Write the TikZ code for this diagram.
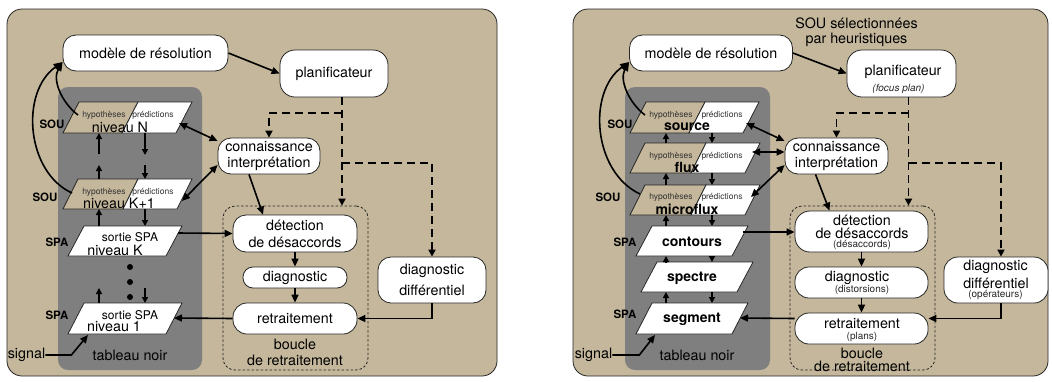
\documentclass[tikz,border=0pt]{standalone}
\usepackage{fontspec}
\setmainfont{TeX Gyre Heros}
\usetikzlibrary{arrows.meta,calc}
\definecolor{paneltan}{HTML}{C4B79B}
\definecolor{boardgray}{HTML}{7F7F7F}
\newcommand\mainf{\fontsize{14.3}{16}\selectfont}
\newcommand\hypf{\fontsize{8.5}{9}\selectfont}
\newcommand\soulf{\fontsize{11.5}{12}\selectfont\bfseries}
\newcommand\lvlf{\fontsize{14}{15}\selectfont\bfseries}
\newcommand\subf{\fontsize{10}{11}\selectfont}
\newcommand\sortf{\fontsize{12}{13}\selectfont}
\begin{document}
\begin{tikzpicture}[x=1pt,y=-1pt,
  box/.style={draw=black!85, line width=0.8pt, fill=white, rounded corners=13pt, inner sep=0pt, align=center, font=\mainf},
  lbl/.style={inner sep=0pt, font=\mainf, align=center},
  hyp/.style={inner sep=0pt, font=\hypf, text=black!80},
  soul/.style={inner sep=0pt, font=\soulf},
  lvl/.style={inner sep=0pt, font=\lvlf},
  sub/.style={inner sep=0pt, font=\subf, text=black!85},
  para/.style={draw=black!85, line width=0.8pt},
  loop/.style={draw=black!85, line width=0.8pt, dash pattern=on 2.5pt off 2pt, rounded corners=12pt, inner sep=0pt},
  arr/.style={line width=1.6pt, -{Triangle[length=8pt,width=7pt]}},
  darr/.style={line width=1.6pt, {Triangle[length=8pt,width=7pt]}-{Triangle[length=8pt,width=7pt]}},
  sarr/.style={line width=1.5pt, -{Triangle[length=6pt,width=6pt]}},
  dsh/.style={line width=1.8pt, dash pattern=on 8pt off 5pt, -{Triangle[length=7pt,width=7pt]}},
  curv/.style={line width=1.6pt, -{Triangle[length=9pt,width=7pt]}}
]
\useasboundingbox (0,0) rectangle (1052,381);

% ================= LEFT PANEL =================
\draw[fill=paneltan, draw=black!85, line width=0.8pt, rounded corners=15pt] (7,9) rectangle (497,376);
\fill[boardgray, rounded corners=10pt] (58,87) rectangle (202,370);

\node[box, minimum width=165, minimum height=36] (modL) at (145.5,53) {modèle de résolution};
\node[box, minimum width=108, minimum height=47, rounded corners=15pt] (plaL) at (334,73.5) {planificateur};
\node[box, minimum width=102, minimum height=36] (conL) at (269,156) {connaissance\\interprétation};
\node[loop, minimum width=145, minimum height=164] (bouL) at (295.5,288) {};
\node[box, minimum width=124, minimum height=37, font=\fontsize{14.3}{17}\selectfont] (detL) at (295,233.5) {détection\\de désaccords};
\node[box, minimum width=104, minimum height=21, rounded corners=10pt] (diaL) at (295,277.5) {diagnostic};
\node[box, minimum width=124, minimum height=31, rounded corners=14pt] (retL) at (295,318.5) {retraitement};
\node[box, minimum width=108, minimum height=46, font=\fontsize{14.3}{21}\selectfont] (ddL) at (432,280) {diagnostic\\différentiel};
\node[lbl] (bouLt) at (295,352) {boucle\\de retraitement};

% levels
\filldraw[para, fill=paneltan] (63,133) -- (79,102) -- (138,102) -- (122,133) -- cycle;
\filldraw[para, fill=white] (122,133) -- (138,102) -- (192,102) -- (176,133) -- cycle;
\filldraw[para, fill=paneltan] (63,209) -- (78,179) -- (138,179) -- (123,209) -- cycle;
\filldraw[para, fill=white] (123,209) -- (138,179) -- (192,179) -- (177,209) -- cycle;
\filldraw[para, fill=white] (68,256) -- (84,226) -- (182,226) -- (166,256) -- cycle;
\filldraw[para, fill=white] (68,334) -- (84,303) -- (182,303) -- (166,334) -- cycle;

\node[hyp] (hypN) at (104,115) {hypothèses};
\node[hyp] (preN) at (153,115) {prédictions};
\node[lbl] (nivN) at (120,127) {niveau N};
\node[hyp] (hypK1) at (104,192) {hypothèses};
\node[hyp] (preK1) at (153,192) {prédictions};
\node[lbl] (nivK1) at (119,203) {niveau K+1};
\node[lbl, font=\sortf] (sorK) at (130,237) {sortie SPA};
\node[lbl] (nivK) at (115,250) {niveau K};
\node[lbl, font=\sortf] (sor1) at (130,315) {sortie SPA};
\node[lbl] (niv1) at (114,327) {niveau 1};

\foreach \yy in {267,282,297} \fill (130,\yy) circle[radius=3pt];

\node[soul] (souL1) at (52,124) {SOU};
\node[soul] (souL2) at (45,197) {SOU};
\node[soul] (spaL1) at (57,242) {SPA};
\node[soul] (spaL2) at (57,315) {SPA};
\node[lbl] (sigL) at (26.5,355) {signal};
\node[lbl] (tabL) at (130,355) {tableau noir};

\coordinate (NR) at (179,123);
\coordinate (K1R) at (182,201);
\coordinate (KR) at (178,233);
\coordinate (oneR) at (174,318);
\coordinate (oneB) at (88,335);
\coordinate (NS) at (78,115);
\coordinate (K1S) at (72,193);
\coordinate (NuB) at (99,133); \coordinate (NdB) at (145,133);
\coordinate (K1uT) at (99,179); \coordinate (K1dT) at (145,179);
\coordinate (K1uB) at (99,209); \coordinate (K1dB) at (145,209);
\coordinate (KuT) at (99,226); \coordinate (KdT) at (145,226);
\coordinate (OuT) at (99,303); \coordinate (OdT) at (145,303);

% small vertical arrows
\draw[sarr] (K1uT) -- ++(0,-14);
\draw[sarr] ($(NuB)+(0,21)$) -- (NuB);
\draw[sarr] (NdB) -- ++(0,22);
\draw[sarr] ($(K1dT)+(0,-14)$) -- (K1dT);
\draw[sarr] (KuT) -- (K1uB);
\draw[sarr] (K1dB) -- (KdT);
\draw[sarr] (OuT) -- ++(0,-15);
\draw[sarr] ($(OdT)+(0,-15)$) -- (OdT);

% connectors
\coordinate (jL0) at ([xshift=8pt]plaL.south);
\coordinate (jL1) at (342,113);
\coordinate (jL2) at (342,163);
\draw[dsh] (jL0) -- (jL0 |- bouL.north);
\draw[dsh] (jL1) -| (conL.north);
\draw[dsh] (jL2) -| (ddL.north);

\draw[arr] (modL.east) -- (plaL.west);
\draw[arr] ([xshift=-20pt]conL.south) -- ([xshift=-32pt]detL.north);
\draw[arr] (detL.south) -- (diaL.north);
\draw[arr] (diaL.south) -- (retL.north);
\draw[arr] (ddL.south) |- (retL.east);
\draw[arr] (KR) -- (detL.west);
\draw[arr] (retL.west) -- (oneR);
\draw[darr] (NR) -- ([yshift=15pt]conL.west);
\draw[darr] (K1R) -- ([yshift=-9pt]conL.west);
\draw[arr] (sigL.east) -- ++(26,0) -- (oneB);
\draw[curv] (NS) .. controls (62,103) and (52,80) .. ([yshift=-9pt]modL.west);
\draw[curv] (K1S) .. controls (26,172) and (20,92) .. ([yshift=-9pt]modL.west);

% ================= RIGHT PANEL =================
\draw[fill=paneltan, draw=black!85, line width=0.8pt, rounded corners=15pt] (573,9) rectangle (1048,376);
\fill[boardgray, rounded corners=10pt] (625,87) rectangle (770,370);

\node[lbl, font=\fontsize{14.3}{15}\selectfont] (heur) at (856.5,32.5) {SOU sélectionnées\\par heuristiques};
\node[box, minimum width=163, minimum height=36] (modR) at (711,53) {modèle de résolution};
\node[box, minimum width=109, minimum height=47, rounded corners=15pt] (plaR) at (901.5,73.5) {};
\node[lbl] (plaRt) at (903,72) {planificateur};
\node[sub, font=\subf\itshape] (plaRs) at (898.5,89) {(focus plan)};
\node[box, minimum width=103, minimum height=36] (conR) at (836.5,156) {connaissance\\interprétation};
\node[loop, minimum width=145, minimum height=164] (bouR) at (862.5,288) {};
\node[box, minimum width=133, minimum height=41, rounded corners=15pt] (detR) at (861.5,231.5) {};
\node[lbl] (detRa) at (862,220.5) {détection};
\node[lbl] (detRb) at (862,233) {de désaccords};
\node[sub] (detRc) at (862,245) {(désaccords)};
\node[box, minimum width=133, minimum height=31, rounded corners=14pt] (diaR) at (861.5,282.5) {};
\node[lbl] (diaRa) at (857,278) {diagnostic};
\node[sub] (diaRb) at (862,290) {(distorsions)};
\node[box, minimum width=133, minimum height=31, rounded corners=14pt] (retR) at (861.5,328.5) {};
\node[lbl] (retRa) at (862,324) {retraitement};
\node[sub] (retRb) at (862,336.5) {(plans)};
\node[box, minimum width=104, minimum height=46, rounded corners=14pt] (ddR) at (996,280) {};
\node[lbl] (ddRa) at (995.5,267) {diagnostic};
\node[lbl] (ddRb) at (996,283) {différentiel};
\node[sub] (ddRc) at (995.5,294.5) {(opérateurs)};
\node[lbl] (bouRa) at (862,353.5) {boucle};
\node[lbl] (bouRb) at (862,366) {de retraitement};

% levels
\filldraw[para, fill=paneltan] (630,133) -- (646,102) -- (705,102) -- (689,133) -- cycle;
\filldraw[para, fill=white] (689,133) -- (705,102) -- (759,102) -- (743,133) -- cycle;
\filldraw[para, fill=paneltan] (630,173) -- (645,143) -- (706,143) -- (691,173) -- cycle;
\filldraw[para, fill=white] (691,173) -- (706,143) -- (760,143) -- (745,173) -- cycle;
\filldraw[para, fill=paneltan] (630,215) -- (645,185) -- (706,185) -- (691,215) -- cycle;
\filldraw[para, fill=white] (691,215) -- (706,185) -- (760,185) -- (745,215) -- cycle;
\filldraw[para, fill=white] (636,256) -- (652,226) -- (748,226) -- (732,256) -- cycle;
\filldraw[para, fill=white] (641,292) -- (657,262) -- (753,262) -- (737,292) -- cycle;
\filldraw[para, fill=white] (636,334) -- (652,303) -- (748,303) -- (732,334) -- cycle;

\node[hyp] (hypS) at (671,115) {hypothèses};
\node[hyp] (preS) at (722,115) {prédictions};
\node[lvl] (levS) at (687,127) {source};
\node[hyp] (hypF) at (671,156) {hypothèses};
\node[hyp] (preF) at (722,156) {prédictions};
\node[lvl] (levF) at (687,167) {flux};
\node[hyp] (hypM) at (671,197) {hypothèses};
\node[hyp] (preM) at (722,197) {prédictions};
\node[lvl] (levM) at (687,209) {microflux};
\node[lvl] (levC) at (692,242) {contours};
\node[lvl] (levP) at (692,278) {spectre};
\node[lvl] (levG) at (692,319) {segment};

\node[soul] (souR1) at (620,124) {SOU};
\node[soul] (souR2) at (608,197) {SOU};
\node[soul] (spaR1) at (625,242) {SPA};
\node[soul] (spaR2) at (625,314) {SPA};
\node[lbl] (sigR) at (593.5,355) {signal};
\node[lbl] (tabR) at (697,355) {tableau noir};

\coordinate (SR) at (746,123);
\coordinate (FR) at (752,152);
\coordinate (MR) at (751,197);
\coordinate (CR) at (743,232);
\coordinate (GR) at (740,318);
\coordinate (GB) at (655,335);
\coordinate (SS) at (645,115);
\coordinate (MS) at (640,194);

% small vertical arrows
\draw[sarr] (666,143) -- (666,133);
\draw[sarr] (712,133) -- (712,143);
\draw[sarr] (666,185) -- (666,173);
\draw[sarr] (712,173) -- (712,185);
\draw[sarr] (666,226) -- (666,215);
\draw[sarr] (712,215) -- (712,226);
\draw[sarr] (666,262) -- (666,256);
\draw[sarr] (712,256) -- (712,262);
\draw[sarr] (666,303) -- (666,292);
\draw[sarr] (712,292) -- (712,303);

% connectors
\coordinate (jR0) at ([xshift=7pt]plaR.south);
\coordinate (jR1) at (908.5,113);
\coordinate (jR2) at (908.5,163);
\draw[dsh] (jR0) -- (jR0 |- bouR.north);
\draw[dsh] (jR1) -| (conR.north);
\draw[dsh] (jR2) -| ([xshift=5pt]ddR.north);

\draw[arr] (modR.east) -- (plaR.west);
\draw[arr] ([xshift=-21pt]conR.south) -- ([xshift=-32pt]detR.north);
\draw[arr] (detR.south) -- (diaR.north);
\draw[arr] (diaR.south) -- (retR.north);
\draw[arr] ([xshift=5pt]ddR.south) |- ([yshift=10pt]retR.east);
\draw[arr] (CR) -- (CR -| detR.west);
\draw[arr] ([yshift=10pt]retR.west) -- (GR);
\draw[darr] (SR) -- ([yshift=15pt]conR.west);
\draw[darr] (FR) -- ([yshift=4pt]conR.west);
\draw[darr] (MR) -- ([yshift=-9pt]conR.west);
\draw[arr] (sigR.east) -- ++(27,0) -- (GB);
\draw[curv] (SS) .. controls (629,103) and (619,80) .. ([yshift=-9pt]modR.west);
\draw[curv] (MS) .. controls (593,172) and (587,92) .. ([yshift=-9pt]modR.west);
\end{tikzpicture}
\end{document}
